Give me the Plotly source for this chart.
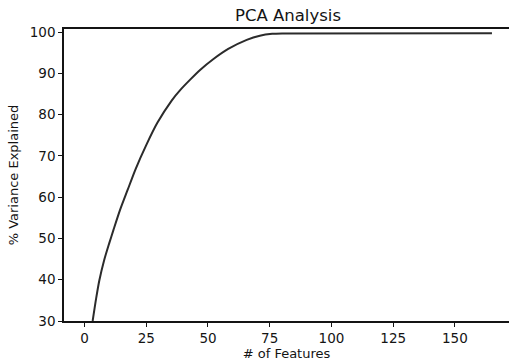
import plotly.graph_objects as go

n_features = [3.3, 4.7, 6.0, 7.9, 10.0, 11.7, 14.4, 17.5, 20.7, 25.0, 29.5, 35.3, 39.0, 42.7,
              46.8, 52.1, 58.2, 65.7, 71.0, 76.0, 80.0, 165.0]
variance_explained = [30.0, 35.4, 39.8, 44.6, 48.8, 52.0, 56.9, 61.8, 66.8, 72.6, 78.0, 83.4,
                      86.1, 88.4, 90.8, 93.4, 95.9, 98.1, 99.1, 99.55, 99.65, 99.7]
x_ticks = [0, 25, 50, 75, 100, 125, 150]
y_ticks = [30, 40, 50, 60, 70, 80, 90, 100]

FONT = "DejaVu Sans"
INK = "#141414"

fig = go.Figure()
fig.add_trace(go.Scatter(
    x=n_features, y=variance_explained, mode="lines",
    line=dict(color="#2b2b2b", width=2, shape="spline", smoothing=0.7),
    hoverinfo="skip", showlegend=False,
))

fig.update_layout(
    width=509, height=362,
    margin=dict(l=64, r=0, t=29, b=41),
    paper_bgcolor="white", plot_bgcolor="white",
    font=dict(family=FONT, size=13, color=INK),
    title=dict(text="PCA Analysis", x=(64 + 512) / 2 / 509, xanchor="center",
               y=1 - 15 / 362, yanchor="middle",
               font=dict(family=FONT, size=16.5, color=INK)),
)
fig.update_xaxes(
    range=[-8.3, 171.9], tickvals=x_ticks, ticktext=[str(t) for t in x_ticks],
    showgrid=False, zeroline=False,
    showline=True, linecolor=INK, linewidth=1.5, mirror=True,
    ticks="outside", ticklen=4, tickwidth=1.2, tickcolor=INK,
    tickfont=dict(family=FONT, size=13.5, color=INK),
    title=dict(text="# of Features", standoff=4, font=dict(family=FONT, size=13, color=INK)),
    automargin=False,
)
fig.update_yaxes(
    range=[30, 100.73], tickvals=y_ticks, ticktext=[str(t) for t in y_ticks],
    showgrid=False, zeroline=False,
    showline=True, linecolor=INK, linewidth=1.5,
    ticks="outside", ticklen=4, tickwidth=1.2, tickcolor=INK,
    tickfont=dict(family=FONT, size=13.5, color=INK),
    title=dict(text="% Variance Explained", standoff=8, font=dict(family=FONT, size=13, color=INK)),
    automargin=False,
)

fig.write_html("out.html")
